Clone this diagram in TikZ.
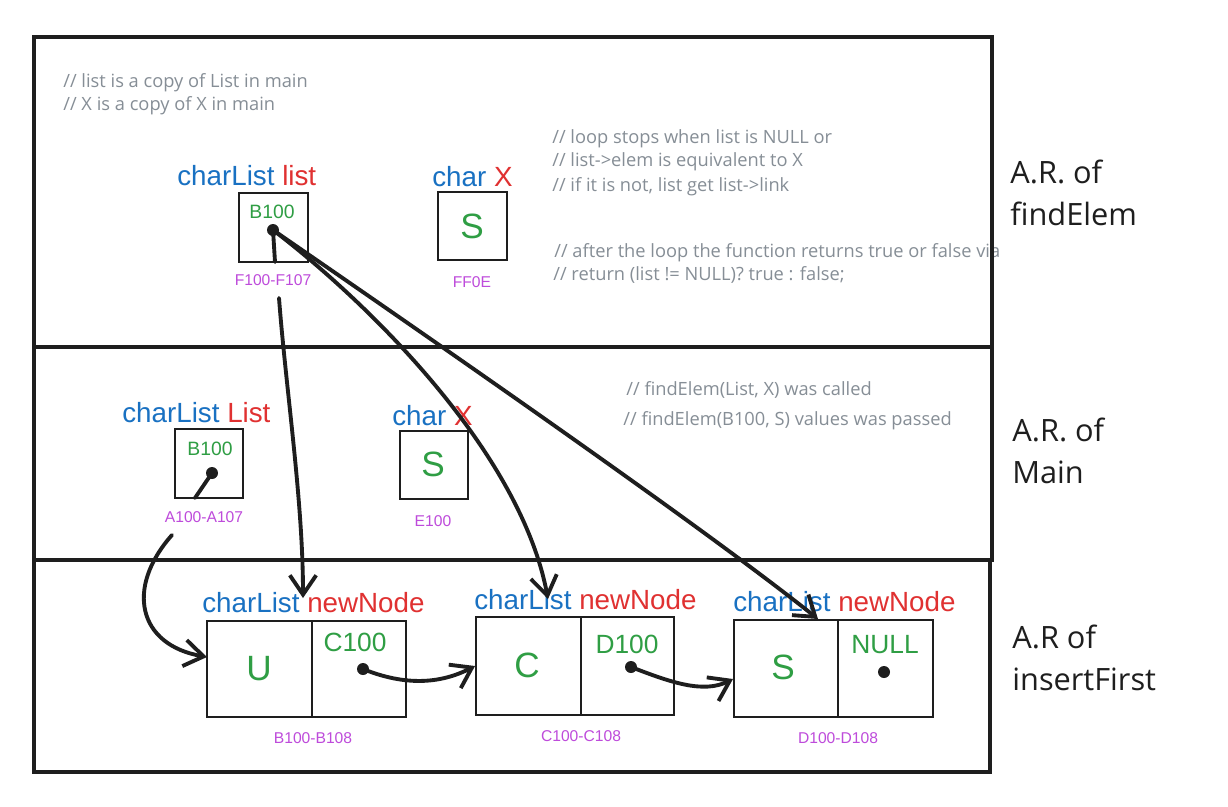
\documentclass[tikz,border=0pt]{standalone}
\usepackage{fontspec}
\setmainfont{Liberation Sans}
\newfontfamily\notefont{Open Sans}
\usetikzlibrary{arrows.meta}

\definecolor{ink}{HTML}{1E1E1E}
\definecolor{typeblue}{HTML}{1971C2}
\definecolor{namered}{HTML}{E03131}
\definecolor{valgreen}{HTML}{2F9E44}
\definecolor{addrpurple}{HTML}{BE4BDB}
\definecolor{notegray}{HTML}{868E96}

\tikzset{
  frame/.style={draw=ink, line width=2.4pt},
  cellbox/.style 2 args={draw=ink, line width=1.1pt, inner sep=0pt,
    minimum width=#1*0.02cm, minimum height=#2*0.02cm},
  decl/.style={anchor=base west, inner sep=0pt, font=\fontsize{15.8}{19}\selectfont},
  smallval/.style={anchor=base, inner sep=0pt, text=valgreen, font=\fontsize{11}{13}\selectfont},
  midval/.style={anchor=base, inner sep=0pt, text=valgreen, font=\fontsize{15}{18}\selectfont},
  bigval/.style={anchor=base, inner sep=0pt, text=valgreen, font=\fontsize{20}{24}\selectfont},
  addr/.style={anchor=base, inner sep=0pt, text=addrpurple, font=\fontsize{8.9}{11}\selectfont},
  note/.style={anchor=base west, inner sep=0pt, text=notegray, font=\notefont\fontsize{10.4}{12}\selectfont},
  arlabel/.style={anchor=base west, inner sep=0pt, text=ink, align=left,
    font=\notefont\fontsize{17.5}{23.8}\selectfont},
  ptrdot/.style={circle, fill=ink, inner sep=0pt, minimum size=0.24cm},
  link/.style={draw=ink, line width=2.2pt, line cap=round,
    -{Straight Barb[length=11pt, width=15pt]}},
  stub/.style={draw=ink, line width=2.2pt, line cap=round},
}

\begin{document}
\begin{tikzpicture}[x=0.02cm, y=-0.02cm]
\useasboundingbox[fill=white] (0,0) rectangle (1228,806);

% ---------- activation record of findElem ----------
\node[note] (c1) at (63,87) {// list is a copy of List in main};
\node[note] (c2) at (63,110) {// X is a copy of X in main};

\node[decl] (lstdecl) at (177,185) {\textcolor{typeblue}{charList} \textcolor{namered}{list}};
\node[cellbox={69}{69}] (lbox) at (273.5,227.5) {};
\node[smallval] (lval) at (272,218) {B100};
\node[ptrdot] (ldot) at (273,230) {};
\node[addr] (laddr) at (273,285) {F100-F107};

\node[decl] (xdecl) at (432,186) {\textcolor{typeblue}{char} \textcolor{namered}{X}};
\node[cellbox={69}{68}] (xbox) at (472.5,226) {};
\node[bigval] (xval) at (472,238) {S};
\node[addr] (xaddr) at (472,287) {FF0E};

\node[note] (c3) at (552,143) {// loop stops when list is NULL or};
\node[note] (c4) at (552,166) {// list->elem is equivalent to X};
\node[note] (c5) at (552,191) {// if it is not, list get list->link};
\node[note] (c6) at (554,257) {// after the loop the function returns true or false via};
\node[note] (c7) at (553,280) {// return (list != NULL)? true : false;};

% ---------- activation record of main ----------
\node[decl] (Ldecl) at (122,422) {\textcolor{typeblue}{charList} \textcolor{namered}{List}};
\node[cellbox={68}{69}] (Lbox) at (209,463.5) {};
\node[smallval] (Lval) at (210,455) {B100};
\node[ptrdot] (mdot) at (212,473) {};
\node[addr] (Laddr) at (204,522) {A100-A107};

\node[decl] (Xdecl) at (392,425) {\textcolor{typeblue}{char} \textcolor{namered}{X}};
\node[cellbox={68}{68}] (Xbox) at (434,465) {};
\node[bigval] (Xval) at (433,476) {S};
\node[addr] (Xaddr) at (433,526) {E100};

\node[note] (c8) at (626,395) {// findElem(List, X) was called};
\node[note] (c9) at (623,425) {// findElem(B100, S) values was passed};

% ---------- activation record of insertFirst ----------
\node[decl] (n1decl) at (202,612) {\textcolor{typeblue}{charList} \textcolor{namered}{newNode}};
\node[cellbox={105}{96}] (n1a) at (259.5,669) {};
\node[cellbox={94}{96}] (n1b) at (359,669) {};
\node[bigval] (n1e) at (259,680) {U};
\node[midval] (n1l) at (355,651) {C100};
\node[ptrdot] (n1dot) at (363,669) {};
\node[addr] (n1addr) at (313,743) {B100-B108};

\node[decl] (n2decl) at (474,609) {\textcolor{typeblue}{charList} \textcolor{namered}{newNode}};
\node[cellbox={105}{98}] (n2a) at (528.5,666) {};
\node[cellbox={93}{98}] (n2b) at (627.5,666) {};
\node[bigval] (n2e) at (527,677) {C};
\node[midval] (n2l) at (627,653) {D100};
\node[ptrdot] (n2dot) at (631,667) {};
\node[addr] (n2addr) at (581,741) {C100-C108};

\node[decl] (n3decl) at (733,611) {\textcolor{typeblue}{charList} \textcolor{namered}{newNode}};
\node[cellbox={104}{97}] (n3a) at (786,668.5) {};
\node[cellbox={95}{97}] (n3b) at (885.5,668.5) {};
\node[bigval] (n3e) at (783,679) {S};
\node[midval] (n3l) at (885,653) {NULL};
\node[ptrdot] (n3dot) at (884,672) {};
\node[addr] (n3addr) at (838,743) {D100-D108};

% ---------- section frames and titles ----------
\draw[frame] (34,37) rectangle (992,347);
\draw[frame] (34,347) rectangle (992,560);
\draw[frame] (34,560) rectangle (990,772);

\node[arlabel] (ar1) at (1010,225) {A.R. of\\findElem};
\node[arlabel] (ar2) at (1012,483) {A.R. of\\Main};
\node[arlabel] (ar3) at (1012,690) {A.R of\\insertFirst};

% ---------- pointers ----------
\coordinate (lstub) at (275,262);
\coordinate (s1) at (279,298);
\coordinate (t1) at (303,598);
\coordinate (t2) at (548,599);
\coordinate (t3) at (818,619);
\coordinate (mstub) at (195,498);
\coordinate (s4) at (172,535);
\coordinate (t4) at (207,657);
\coordinate (t6) at (733,679);

\draw[stub] (ldot.center) -- (lstub);
\draw[link] (s1) .. controls (286,390) and (303,500) .. (t1);
\draw[link] (ldot.center) .. controls (365,300) and (520,450) .. (t2);
\draw[link] (ldot.center) .. controls (440,345) and (700,525) .. (t3);

\draw[stub] (mdot.center) -- (mstub);
\draw[link] (s4) .. controls (125,588) and (138,645) .. (t4);

\draw[link] (n1dot.center) .. controls (405,686) and (440,684) .. (n2a.west);
\draw[link] (n2dot.center) .. controls (670,682) and (703,694) .. (t6);
\end{tikzpicture}
\end{document}
